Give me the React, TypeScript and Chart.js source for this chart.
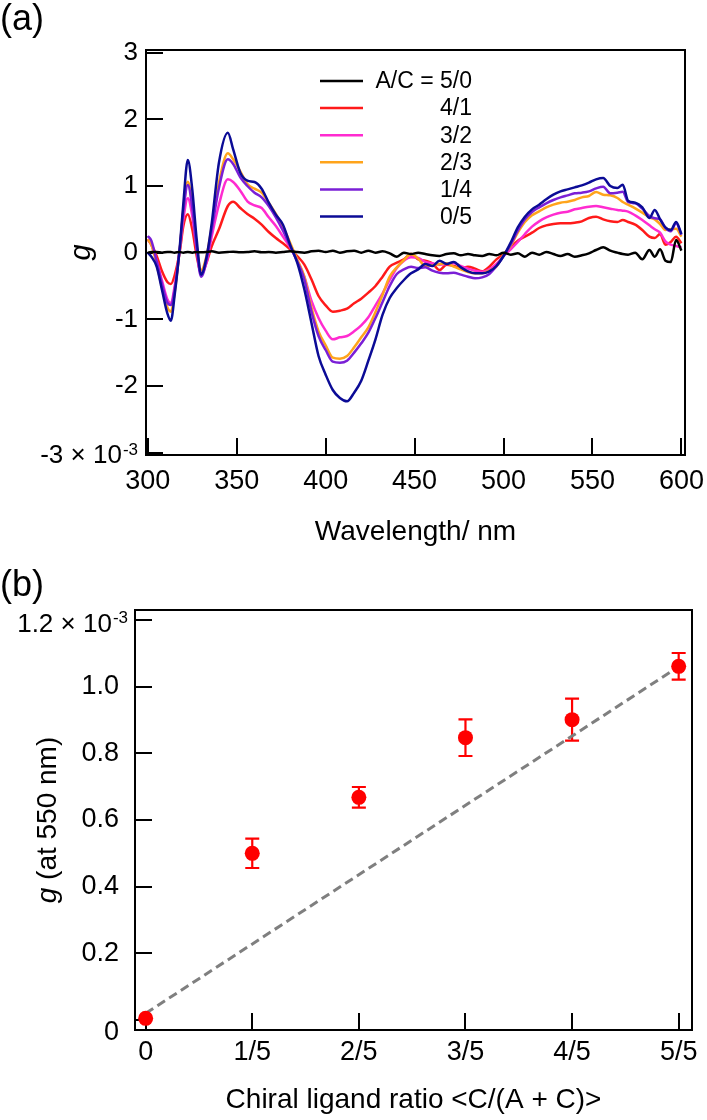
import React, { useEffect, useRef } from 'react';
import { Chart, registerables } from 'chart.js';

Chart.register(...registerables);

const FONT = '"Liberation Sans", Arial, Helvetica, sans-serif';

// ---------- (a) CD / g-factor spectra ----------
const wavelengths = [
  300, 302, 305, 308, 311, 313, 315, 318, 320, 322.5,
  325, 327.5, 330, 333, 336, 340, 345, 348, 352, 356,
  360, 364, 368, 372, 376, 380, 384, 388, 392, 396,
  400, 404, 408, 412, 416, 420, 424, 428, 432, 436,
  440, 444, 448, 452, 456, 460, 464, 468, 472, 476,
  480, 484, 488, 492, 496, 500, 504, 508, 512, 516,
  520, 524, 528, 532, 536, 540, 544, 548, 552, 556,
  560, 564, 567, 570, 574, 578, 582, 585, 588, 591,
  594, 597, 600,
];

const g50 = [
  0.0, 0.01, 0.01, 0.0, 0.01, 0.01, 0.0, 0.01, 0.0, 0.01,
  0.0, 0.01, 0.005, 0.01, 0.02, 0.0, 0.01, 0.015, 0.005, 0.01,
  0.02, 0.005, 0.01, 0.0, 0.01, 0.02, 0.01, 0.0, 0.02, 0.03,
  0.01, 0.03, 0.0, 0.02, 0.03, 0.0, 0.03, 0.0, 0.02, -0.01,
  -0.06, 0.0, -0.02, 0.0, -0.02, -0.04, -0.05, -0.02, -0.01, -0.04,
  -0.02, -0.04, -0.05, -0.02, -0.04, 0.0, -0.03, -0.01, -0.06, 0.0,
  -0.03, 0.01, -0.02, -0.05, -0.02, -0.06, -0.04, -0.01, 0.04, 0.08,
  0.03, 0.0, -0.02, -0.03, 0.0, -0.1, 0.04, -0.06, 0.05, -0.12,
  -0.14, 0.19, 0.03,
];

const g41 = [
  0.2, 0.12, -0.05, -0.28, -0.44, -0.47, -0.35, 0.02, 0.4, 0.575,
  0.35, -0.05, -0.31, -0.15, 0.1, 0.35, 0.7, 0.765, 0.67, 0.58,
  0.51, 0.42, 0.31, 0.22, 0.14, 0.05, -0.05, -0.18, -0.4, -0.65,
  -0.79, -0.885, -0.87, -0.84, -0.76, -0.69, -0.6, -0.5, -0.36, -0.21,
  -0.15, -0.1, -0.02, -0.1, -0.12, -0.16, -0.26, -0.18, -0.2, -0.23,
  -0.21, -0.24, -0.28, -0.21, -0.1, -0.02, 0.08, 0.18, 0.24, 0.3,
  0.37, 0.41, 0.43, 0.44, 0.44, 0.45, 0.47, 0.52, 0.54, 0.5,
  0.47, 0.46, 0.49, 0.46, 0.42, 0.34, 0.24, 0.22, 0.28, 0.12,
  0.16, 0.24, 0.14,
];

const g32 = [
  0.2, 0.12, -0.12, -0.42, -0.7, -0.76, -0.52, 0.05, 0.5, 0.815,
  0.55, 0.05, -0.335, -0.15, 0.25, 0.72, 1.1, 1.06, 0.93, 0.77,
  0.71, 0.67, 0.53, 0.4, 0.24, 0.08, -0.12, -0.36, -0.72, -0.98,
  -1.17, -1.3, -1.27, -1.25, -1.18, -1.09, -0.97, -0.79, -0.61, -0.41,
  -0.23, -0.12, -0.07, -0.08, -0.14, -0.16, -0.18, -0.17, -0.16, -0.2,
  -0.24, -0.27, -0.285, -0.25, -0.17, -0.05, 0.05, 0.16, 0.28, 0.39,
  0.47, 0.53, 0.57, 0.6, 0.615, 0.65, 0.67, 0.69, 0.7, 0.68,
  0.66, 0.64, 0.63, 0.615, 0.56, 0.49, 0.41, 0.35, 0.3, 0.17,
  0.12, 0.1, 0.08,
];

const g23 = [
  0.2, 0.12, -0.18, -0.52, -0.82, -0.885, -0.62, 0.06, 0.65, 1.065,
  0.72, 0.1, -0.26, -0.05, 0.4, 1.05, 1.49, 1.4, 1.22, 1.03,
  0.96, 0.9, 0.75, 0.58, 0.39, 0.15, -0.1, -0.36, -0.82, -1.18,
  -1.39, -1.575, -1.59, -1.55, -1.42, -1.27, -1.12, -0.89, -0.63, -0.36,
  -0.22, -0.11, -0.02, -0.09, -0.2, -0.19, -0.17, -0.16, -0.21, -0.25,
  -0.29, -0.31, -0.31, -0.27, -0.21, -0.03, 0.1, 0.3, 0.46, 0.56,
  0.62, 0.68, 0.72, 0.75, 0.765, 0.79, 0.83, 0.85, 0.91, 0.87,
  0.86, 0.82, 0.76, 0.72, 0.665, 0.6, 0.53, 0.5, 0.43, 0.34,
  0.35, 0.36, 0.24,
];

const g14 = [
  0.25, 0.18, -0.13, -0.47, -0.75, -0.785, -0.57, 0.06, 0.62, 1.015,
  0.68, 0.05, -0.36, -0.12, 0.35, 0.97, 1.4, 1.33, 1.13, 1.0,
  0.9, 0.83, 0.7, 0.53, 0.33, 0.1, -0.13, -0.4, -0.88, -1.25,
  -1.46, -1.635, -1.65, -1.62, -1.5, -1.36, -1.2, -0.98, -0.74, -0.5,
  -0.32, -0.25, -0.21, -0.23, -0.22, -0.27, -0.3, -0.31, -0.3, -0.33,
  -0.36, -0.385, -0.37, -0.32, -0.2, -0.05, 0.12, 0.33, 0.5, 0.61,
  0.68, 0.74, 0.79, 0.83, 0.86, 0.89, 0.9, 0.92, 0.965, 0.99,
  0.89, 0.9, 0.915, 0.76, 0.74, 0.66, 0.55, 0.515, 0.5, 0.37,
  0.32, 0.44, 0.27,
];

const g05 = [
  0.0, -0.06, -0.21, -0.56, -0.91, -1.02, -0.66, 0.09, 0.74, 1.39,
  0.95, 0.2, -0.33, -0.07, 0.45, 1.35, 1.8, 1.55, 1.2, 1.08,
  1.06, 0.96, 0.75, 0.57, 0.42, 0.12, -0.15, -0.55, -1.05, -1.55,
  -1.83, -2.06, -2.18, -2.23, -2.1, -1.92, -1.62, -1.3, -0.93, -0.68,
  -0.53, -0.41, -0.31, -0.25, -0.17, -0.2, -0.12, -0.17, -0.14, -0.22,
  -0.28, -0.31, -0.31, -0.28, -0.2, -0.05, 0.15, 0.38, 0.54, 0.65,
  0.72, 0.8, 0.87, 0.92, 0.95, 0.98, 1.01, 1.05, 1.1, 1.12,
  1.0, 0.97, 1.02, 0.78, 0.75, 0.68, 0.52, 0.64, 0.5, 0.38,
  0.34, 0.46, 0.28,
];

const seriesLabels = ['A/C = 5/0', '4/1', '3/2', '2/3', '1/4', '0/5'];
const seriesValues = [g50, g41, g32, g23, g14, g05];
const seriesColors = ['#000000', '#ff1a1a', '#ff2bd0', '#ffa41b', '#7a1fd6', '#0b0b96'];
const seriesOrder = [0, 5, 4, 3, 2, 1];

const xTicksA = [300, 350, 400, 450, 500, 550, 600];
const yTicksA = [-3, -2, -1, 0, 1, 2, 3];

// ---------- (b) g at 550 nm vs chiral ligand ratio ----------
const ratios = [0, 0.2, 0.4, 0.6, 0.8, 1.0];
const ratioLabels = ['0', '1/5', '2/5', '3/5', '4/5', '5/5'];
const g550 = [0.005, 0.5, 0.668, 0.847, 0.901, 1.061];
const g550Err = [0, 0.044, 0.031, 0.055, 0.063, 0.04];
const fitX = [0, 1];
const fitY = [0.02, 1.06];
const yTicksB = [0, 0.2, 0.4, 0.6, 0.8, 1.0, 1.2];

function drawSci(ctx: CanvasRenderingContext2D, main: string, sup: string, rightX: number,
  baseMain: number, baseSup: number, fsMain: number, fsSup: number) {
  ctx.fillStyle = '#000';
  ctx.textAlign = 'right';
  ctx.textBaseline = 'alphabetic';
  ctx.font = `${fsSup}px ${FONT}`;
  const w = ctx.measureText(sup).width;
  ctx.fillText(sup, rightX, baseSup);
  ctx.font = `${fsMain}px ${FONT}`;
  ctx.fillText(main, rightX - w - 1, baseMain);
}

const pluginA = {
  id: 'decorA',
  afterDatasetsDraw(chart: any) {
    const { ctx, chartArea: a } = chart;
    ctx.save();
    const x0 = a.left + 174;
    const x1 = a.left + 217;
    const tx = a.left + 326;
    let y = a.top + 31;
    ctx.font = `23px ${FONT}`;
    ctx.textAlign = 'right';
    ctx.textBaseline = 'middle';
    seriesLabels.forEach((lab, i) => {
      ctx.strokeStyle = seriesColors[i];
      ctx.lineWidth = 2.5;
      ctx.beginPath();
      ctx.moveTo(x0, y);
      ctx.lineTo(x1, y);
      ctx.stroke();
      ctx.fillStyle = '#000';
      ctx.fillText(lab, tx, y + 1);
      y += 27.1;
    });
    ctx.restore();
  },
  afterDraw(chart: any) {
    const { ctx, chartArea: a, scales } = chart;
    ctx.save();
    ctx.strokeStyle = '#000';
    ctx.lineWidth = 2;
    ctx.strokeRect(a.left, a.top, a.right - a.left, a.bottom - a.top);
    const py = scales.y.getPixelForValue(-3);
    drawSci(ctx, '-3 \u00d7 10', '-3', a.left - 8, py + 10.8, py + 2.3, 26, 17);
    ctx.font = `36px ${FONT}`;
    ctx.textAlign = 'left';
    ctx.textBaseline = 'alphabetic';
    ctx.fillStyle = '#000';
    ctx.fillText('(a)', 0, 30);
    ctx.restore();
  },
};

const errorBarsB = {
  id: 'errB',
  beforeDatasetsDraw(chart: any) {
    const { ctx, scales } = chart;
    ctx.save();
    ctx.strokeStyle = '#ff0000';
    ctx.lineWidth = 2.2;
    ratios.forEach((r, i) => {
      const e = g550Err[i];
      if (!e) return;
      const x = scales.x.getPixelForValue(r);
      const yt = scales.y.getPixelForValue(g550[i] + e);
      const yb = scales.y.getPixelForValue(g550[i] - e);
      ctx.beginPath();
      ctx.moveTo(x, yt); ctx.lineTo(x, yb);
      ctx.moveTo(x - 7, yt); ctx.lineTo(x + 7, yt);
      ctx.moveTo(x - 7, yb); ctx.lineTo(x + 7, yb);
      ctx.stroke();
    });
    ctx.restore();
  },
  afterDraw(chart: any) {
    const { ctx, chartArea: a, scales } = chart;
    ctx.save();
    ctx.strokeStyle = '#000';
    ctx.lineWidth = 2;
    ctx.strokeRect(a.left, a.top, a.right - a.left, a.bottom - a.top);
    const py = scales.y.getPixelForValue(1.2);
    drawSci(ctx, '1.2 \u00d7 10', '-3', a.left - 7, py + 11.9, py + 3, 26, 17);
    // "0" label sits on the bottom frame in the reference
    ctx.font = `27px ${FONT}`;
    ctx.textAlign = 'right';
    ctx.textBaseline = 'middle';
    ctx.fillStyle = '#000';
    ctx.fillText('0', a.left - 16, a.bottom + 3);
    // y-axis title: italic g + normal text, rotated
    ctx.translate(56.4, (a.top + a.bottom) / 2);
    ctx.rotate(-Math.PI / 2);
    ctx.textBaseline = 'alphabetic';
    ctx.textAlign = 'left';
    ctx.font = `italic 28px ${FONT}`;
    const wg = ctx.measureText('g').width;
    ctx.font = `28px ${FONT}`;
    const rest = ' (at 550 nm)';
    const wr = ctx.measureText(rest).width;
    const start = -(wg + wr) / 2;
    ctx.font = `italic 28px ${FONT}`;
    ctx.fillText('g', start, 0);
    ctx.font = `28px ${FONT}`;
    ctx.fillText(rest, start + wg, 0);
    ctx.setTransform(1, 0, 0, 1, 0, 0);
    ctx.restore();
    ctx.save();
    ctx.font = `36px ${FONT}`;
    ctx.textAlign = 'left';
    ctx.textBaseline = 'alphabetic';
    ctx.fillStyle = '#000';
    ctx.fillText('(b)', 0, 36);
    ctx.restore();
  },
};

function makeChartA(canvas: HTMLCanvasElement) {
  const datasets = seriesValues.map((vals, i) => ({
    label: seriesLabels[i],
    data: wavelengths.map((w, j) => ({ x: w, y: vals[j] })),
    borderColor: seriesColors[i],
    backgroundColor: seriesColors[i],
    borderWidth: 2.5,
    pointRadius: 0,
    fill: false,
    cubicInterpolationMode: 'monotone' as const,
    order: seriesOrder[i],
  }));
  return new Chart(canvas, {
    type: 'line',
    data: { datasets },
    options: {
      responsive: false,
      animation: false,
      layout: { padding: { left: 0, top: 50, right: 22, bottom: 0 } },
      plugins: { legend: { display: false }, tooltip: { enabled: false } },
      scales: {
        x: {
          type: 'linear',
          min: 299,
          max: 602,
          border: { display: false },
          grid: { drawOnChartArea: false, drawTicks: true, tickLength: -17, color: '#000', lineWidth: 2 },
          afterBuildTicks: (s: any) => { s.ticks = xTicksA.map((v) => ({ value: v })); },
          afterFit: (s: any) => { s.height = 105; s.paddingLeft = 0; s.paddingRight = 0; },
          ticks: {
            autoSkip: false, maxRotation: 0, padding: 27, color: '#000',
            font: { family: FONT, size: 27 },
            callback: (v: any) => String(v),
          },
          title: {
            display: true, text: 'Wavelength/ nm', color: '#000',
            font: { family: FONT, size: 28 }, padding: { top: 0, bottom: 11 },
          },
        },
        y: {
          type: 'linear',
          min: -3.035,
          max: 3.04,
          border: { display: false },
          grid: { drawOnChartArea: false, drawTicks: true, tickLength: -17, color: '#000', lineWidth: 2 },
          afterBuildTicks: (s: any) => { s.ticks = yTicksA.map((v) => ({ value: v })); },
          afterFit: (s: any) => { s.width = 146; s.paddingTop = 0; s.paddingBottom = 0; },
          ticks: {
            autoSkip: false, padding: 25, color: '#000',
            font: { family: FONT, size: 26 },
            callback: (v: any) => (v === -3 ? '' : String(v)),
          },
          title: {
            display: true, text: 'g', color: '#000',
            font: { family: FONT, size: 29, style: 'italic' }, padding: { top: 65, bottom: 0 },
          },
        },
      },
    },
    plugins: [pluginA],
  });
}

function makeChartB(canvas: HTMLCanvasElement) {
  return new Chart(canvas, {
    type: 'scatter',
    data: {
      datasets: [
        {
          label: 'g at 550 nm',
          data: ratios.map((r, i) => ({ x: r, y: g550[i] })),
          backgroundColor: '#ff0000',
          borderColor: '#ff0000',
          pointRadius: 7.5,
          pointBorderWidth: 0,
          order: 0,
        },
        {
          type: 'line' as const,
          label: 'fit',
          data: fitX.map((x, i) => ({ x, y: fitY[i] })),
          borderColor: '#7f7f7f',
          borderWidth: 3,
          borderDash: [9, 5],
          pointRadius: 0,
          fill: false,
          showLine: true,
          order: 1,
        },
      ],
    },
    options: {
      responsive: false,
      animation: false,
      layout: { padding: { left: 0, top: 50, right: 15, bottom: 0 } },
      plugins: { legend: { display: false }, tooltip: { enabled: false } },
      scales: {
        x: {
          type: 'linear',
          min: -0.02,
          max: 1.025,
          border: { display: false },
          grid: { drawOnChartArea: false, drawTicks: true, tickLength: -17, color: '#000', lineWidth: 2 },
          afterBuildTicks: (s: any) => { s.ticks = ratios.map((v) => ({ value: v })); },
          afterFit: (s: any) => { s.height = 90; s.paddingLeft = 0; s.paddingRight = 0; },
          ticks: {
            autoSkip: false, maxRotation: 0, padding: 23, color: '#000',
            font: { family: FONT, size: 27 },
            callback: (_v: any, i: number) => ratioLabels[i],
          },
          title: {
            display: true, text: 'Chiral ligand ratio <C/(A + C)>', color: '#000',
            font: { family: FONT, size: 28 }, padding: { top: 0, bottom: 3 },
          },
        },
        y: {
          type: 'linear',
          min: -0.03,
          max: 1.23,
          border: { display: false },
          grid: { drawOnChartArea: false, drawTicks: true, tickLength: -17, color: '#000', lineWidth: 2 },
          afterBuildTicks: (s: any) => { s.ticks = yTicksB.map((v) => ({ value: v })); },
          afterFit: (s: any) => { s.width = 135; s.paddingTop = 0; s.paddingBottom = 0; },
          ticks: {
            autoSkip: false, padding: 33, color: '#000',
            font: { family: FONT, size: 27 },
            callback: (v: any) => (v === 0 || v === 1.2 ? '' : Number(v).toFixed(1)),
          },
        },
      },
    },
    plugins: [errorBarsB],
  });
}

export default function App() {
  const refA = useRef<HTMLCanvasElement>(null);
  const refB = useRef<HTMLCanvasElement>(null);
  useEffect(() => {
    const a = makeChartA(refA.current!);
    const b = makeChartB(refB.current!);
    return () => { a.destroy(); b.destroy(); };
  }, []);
  return (
    <div style={{ position: 'absolute', left: 0, top: 0, width: 707, height: 1120, background: '#fff' }}>
      <canvas ref={refA} width={707} height={560}
        style={{ position: 'absolute', left: 0, top: 0, width: 707, height: 560 }} />
      <canvas ref={refB} width={707} height={560}
        style={{ position: 'absolute', left: 0, top: 560, width: 707, height: 560 }} />
    </div>
  );
}
